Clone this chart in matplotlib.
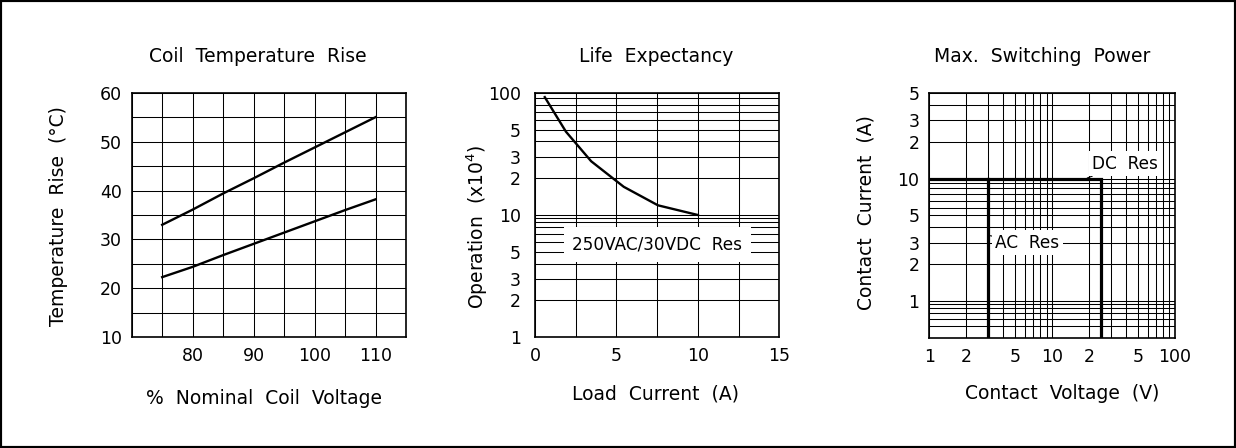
import matplotlib.pyplot as plt
from matplotlib.patches import Rectangle
import numpy as np

plt.rcParams['font.family'] = 'DejaVu Sans'
plt.rcParams['font.size'] = 12.5

# Coil temperature rise
voltage = [75, 80, 85, 90, 95, 100, 105, 110]
rise_upper = [33.0, 36.1, 39.4, 42.5, 45.7, 48.8, 51.9, 55.0]
rise_lower = [22.3, 24.4, 26.8, 29.1, 31.4, 33.7, 36.0, 38.2]

# Life expectancy
load_current = [0.6, 1.9, 3.45, 5.45, 7.55, 10.0]
operations = [92, 48, 27.5, 17, 12, 10]

# Max switching power (DC / AC limits)
dc_voltage = [1, 25, 25]
dc_current = [10, 10, 0.5]
ac_voltage = [3, 3]
ac_current = [10, 0.5]

W, H = 1236, 448
fig = plt.figure(figsize=(W / 100, H / 100), dpi=100)
FS = 13.5
NOTE_FS = 12.2


def px_axes(left, right, top, bottom):
    return fig.add_axes([left / W, 1 - bottom / H, (right - left) / W, (bottom - top) / H])


def ftext(x, y, s, **kw):
    fig.text(x / W, 1 - y / H, s, ha='center', va='center', fontsize=FS, **kw)


def style(ax):
    ax.grid(True, which='both', color='black', lw=0.75)
    ax.tick_params(which='both', length=0, pad=7, labelsize=12.5)
    for sp in ax.spines.values():
        sp.set_linewidth(1.2)
    ax.set_axisbelow(True)


# ---- panel 1
ax1 = px_axes(131.7, 406, 92.7, 337.3)
ax1.plot(voltage, rise_upper, c='k', lw=1.7)
ax1.plot(voltage, rise_lower, c='k', lw=1.7)
ax1.set_xlim(70, 115)
ax1.set_ylim(10, 60)
ax1.set_xticks([80, 90, 100, 110])
ax1.set_xticks([70, 75, 85, 95, 105, 115], minor=True)
ax1.set_yticks([10, 20, 30, 40, 50, 60])
ax1.set_yticks([15, 25, 35, 45, 55], minor=True)
style(ax1)
ftext(258, 57, 'Coil  Temperature  Rise')
ftext(264, 398, '%  Nominal  Coil  Voltage')
ftext(59, 216, 'Temperature  Rise  (°C)', rotation=90)

# ---- panel 2
ax2 = px_axes(535, 779.3, 92.7, 337.3)
ax2.plot(load_current, operations, c='k', lw=1.7)
ax2.set_yscale('log')
ax2.set_xlim(0, 15)
ax2.set_ylim(1, 100)
ax2.set_xticks([0, 5, 10, 15])
ax2.set_xticks([2.5, 7.5, 12.5], minor=True)
ax2.set_yticks([1, 2, 3, 5, 10, 20, 30, 50, 100],
               labels=['1', '2', '3', '5', '10', '2', '3', '5', '100'])
ax2.set_yticks([4, 6, 7, 8, 8.8, 9.5, 40, 60, 70, 80, 90], labels=[], minor=True)
style(ax2)
ax2.tick_params(axis='y', pad=10)
ax2.text(7.5, 5.7, '250VAC/30VDC  Res', ha='center', va='center', fontsize=NOTE_FS,
         bbox=dict(boxstyle='square,pad=0.5', fc='white', ec='none'))
ftext(656, 56, 'Life  Expectancy')
ftext(656, 394, 'Load  Current  (A)')
ftext(477, 227, 'Operation  (x10$^4$)', rotation=90)

# ---- panel 3
ax3 = px_axes(929.3, 1175, 92.7, 338.3)
ax3.plot(dc_voltage, dc_current, c='k', lw=2.3, solid_joinstyle='miter')
ax3.plot(ac_voltage, ac_current, c='k', lw=2.3)
ax3.set_xscale('log')
ax3.set_yscale('log')
ax3.set_xlim(1, 100)
ax3.set_ylim(0.5, 50)
ax3.set_xticks([1, 2, 5, 10, 20, 50, 100],
               labels=['1', '2', '5', '10', '2', '5', '100'])
ax3.set_xticks([3, 4, 6, 7, 8, 9, 30, 40, 60, 70, 80, 90], labels=[], minor=True)
ax3.set_yticks([1, 2, 3, 5, 10, 20, 30, 50],
               labels=['1', '2', '3', '5', '10', '2', '3', '5'])
ax3.set_yticks([0.63, 0.72, 0.8, 0.88, 0.95, 4, 5.8, 6.6, 7.5, 8.4, 9.2, 40],
               labels=[], minor=True)
style(ax3)
ax3.annotate('DC  Res', xy=(19.3, 10.1), xytext=(21.3, 13.2), ha='left', va='center',
             fontsize=NOTE_FS, bbox=dict(boxstyle='square,pad=0.2', fc='white', ec='none'),
             arrowprops=dict(arrowstyle='-', lw=0.8, shrinkA=0, shrinkB=0))
ax3.annotate('AC  Res', xy=(3.0, 3.45), xytext=(3.45, 3.0), ha='left', va='center',
             fontsize=NOTE_FS, bbox=dict(boxstyle='square,pad=0.2', fc='white', ec='none'),
             arrowprops=dict(arrowstyle='-', lw=0.8, shrinkA=0, shrinkB=0))
ftext(1042, 56, 'Max.  Switching  Power')
ftext(1062, 393, 'Contact  Voltage  (V)')
ftext(866, 213, 'Contact  Current  (A)', rotation=90)

fig.patches.append(Rectangle((0, 0), 1, 1, transform=fig.transFigure, fill=False,
                             ec='black', lw=3))

fig.savefig('out.png', dpi=100)
